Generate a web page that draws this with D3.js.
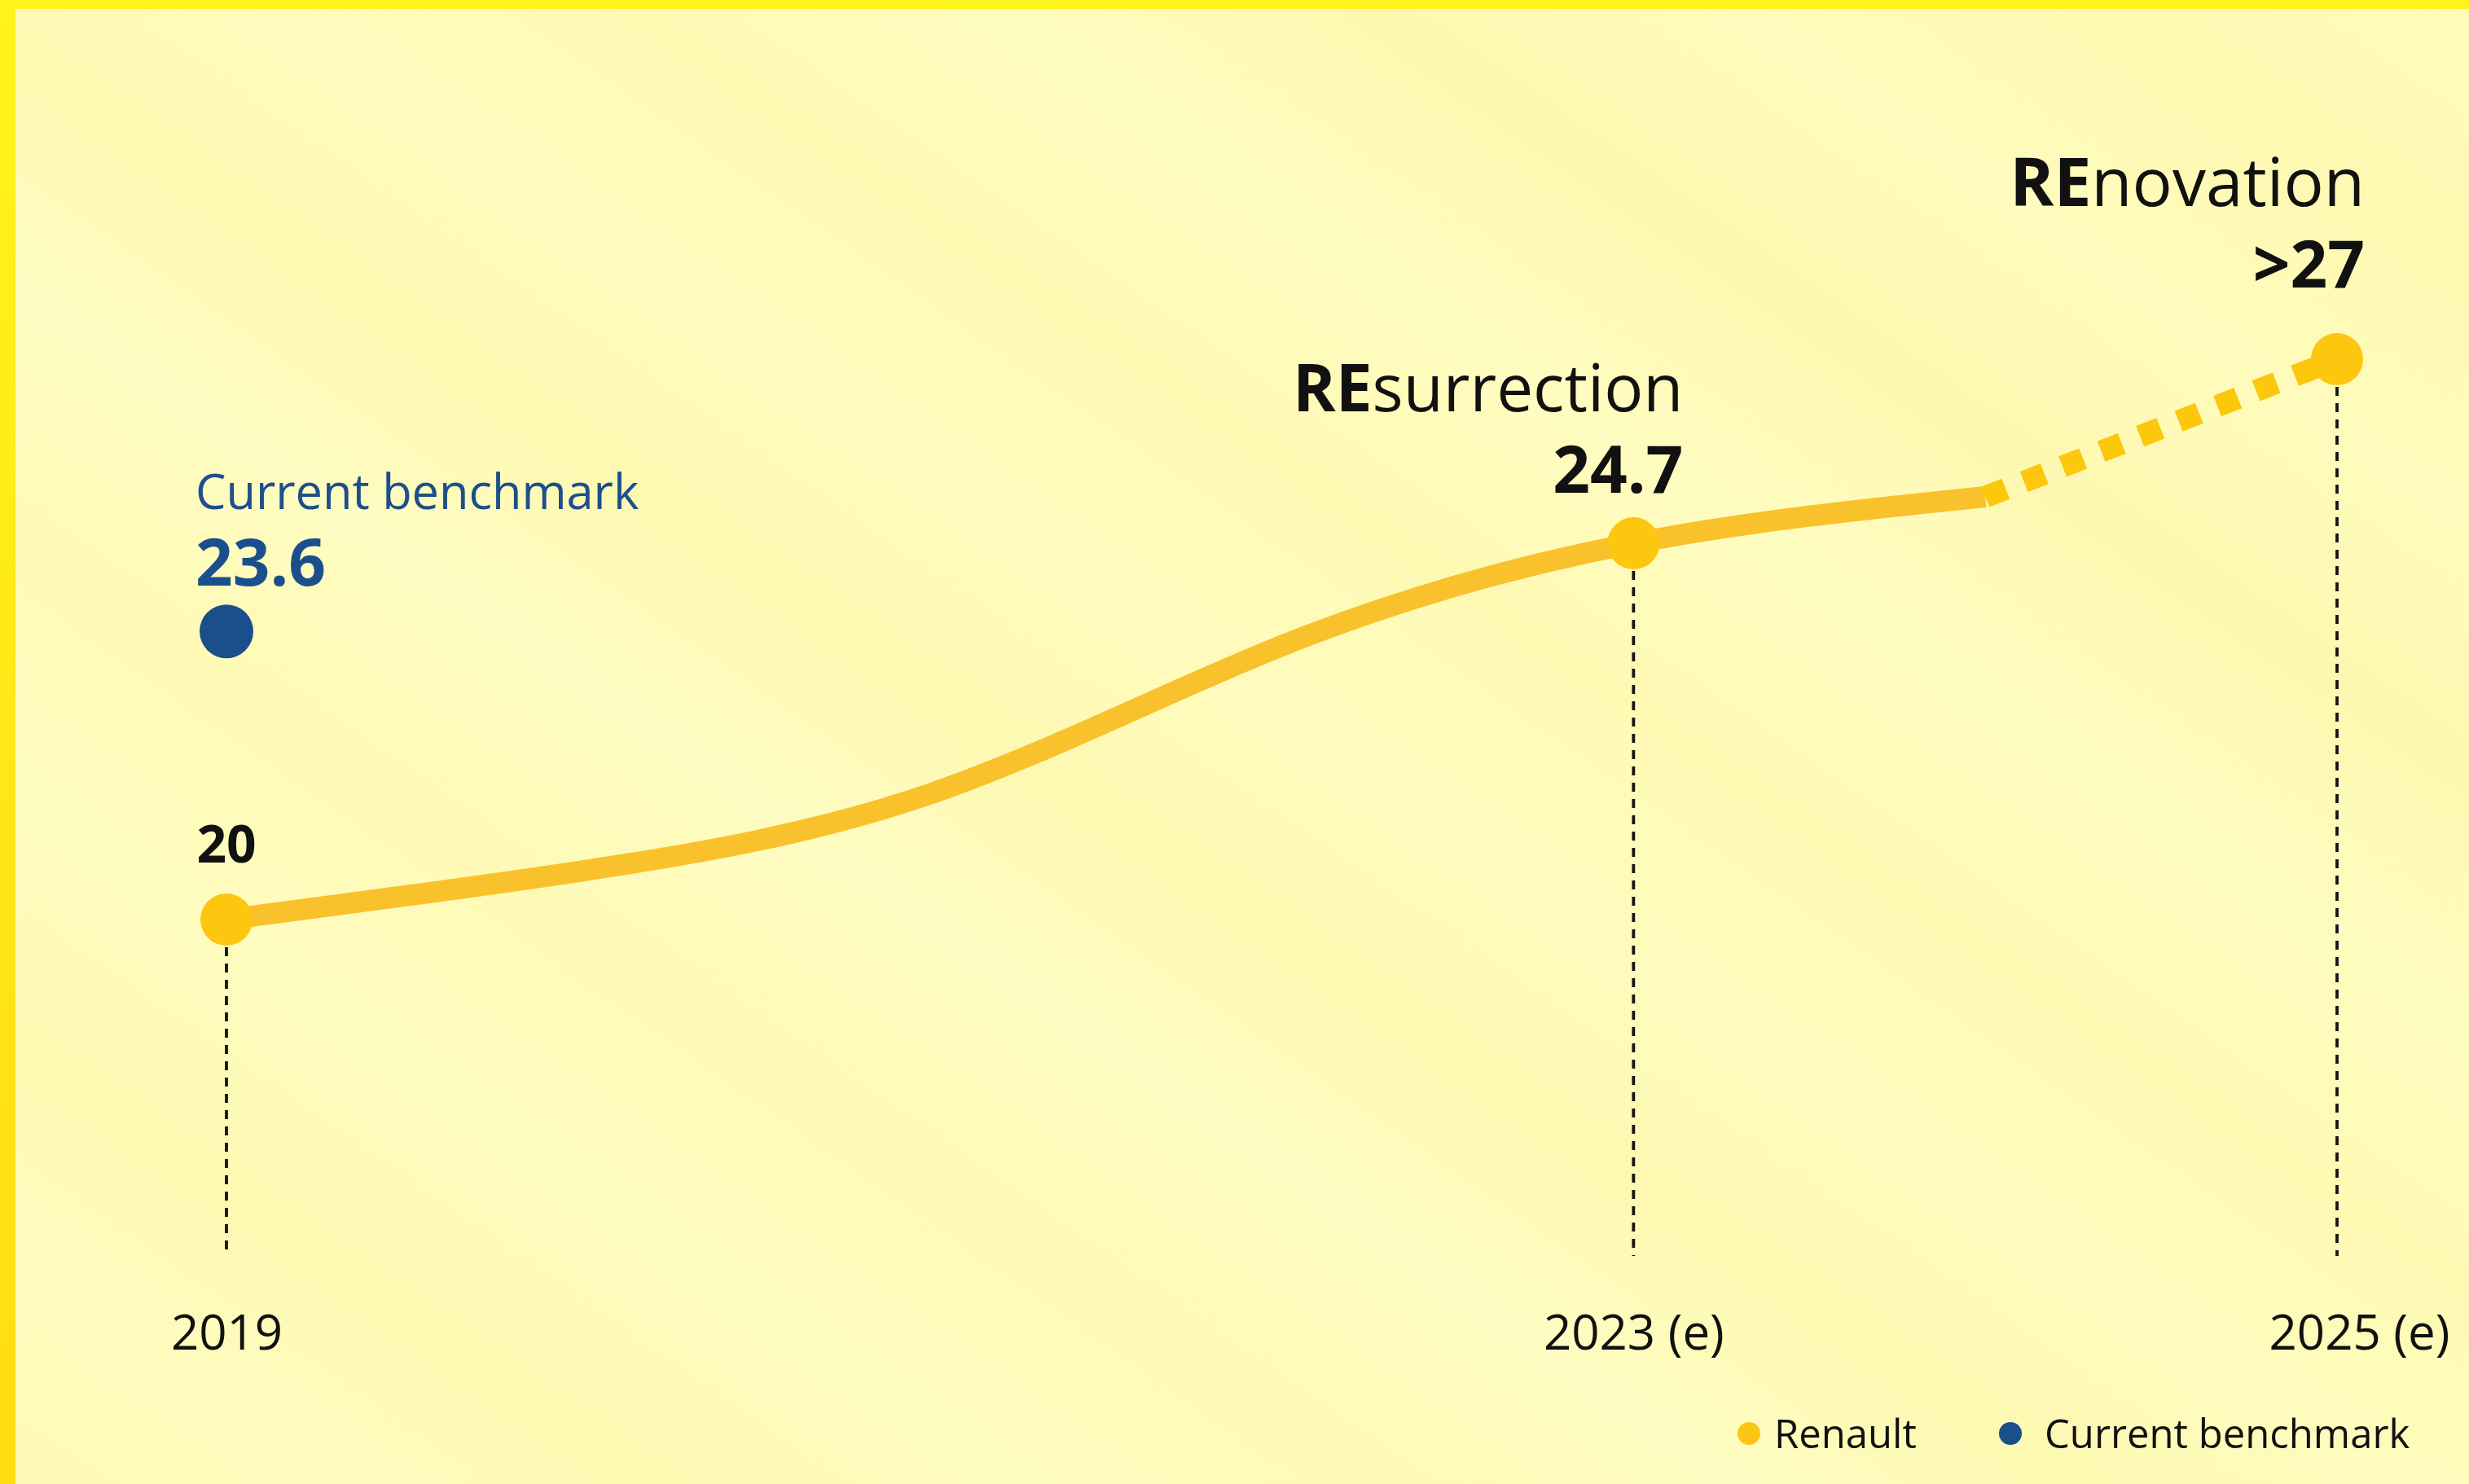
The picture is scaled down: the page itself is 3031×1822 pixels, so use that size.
<!DOCTYPE html>
<html>
<head>
<meta charset="utf-8">
<script src="https://cdn.jsdelivr.net/npm/d3@7/dist/d3.min.js"></script>
<style>
  html, body { margin: 0; padding: 0; background: #fefab8; }
  svg { display: block; }
  text { font-family: "Open Sans", "Noto Sans", sans-serif; }
</style>
</head>
<body>
<svg id="chart" width="3031" height="1822"></svg>
<script>
// Renault trajectory (solid to 2024, estimated path dashed to 2025)
const years = [2019, 2020, 2021, 2022, 2023, 2024, 2025];
const renault = [20, 20.6, 21.57, 23.42, 24.7, 25.28, 27];
const forecastStart = 2024;

// Labelled milestones on the Renault line
const milestoneYears = [2019, 2023, 2025];
const milestoneValues = [20, 24.7, 27];
const milestoneNames = ["", "surrection", "novation"];
const milestoneValueText = ["20", "24.7", ">27"];

// Current benchmark marker
const benchmarkYear = 2019;
const benchmarkValue = 23.6;
const benchmarkName = "Current benchmark";

// Axis ticks
const tickYears = [2019, 2023, 2025];
const tickLabels = ["2019", "2023 (e)", "2025 (e)"];

// Legend
const legendNames = ["Renault", "Current benchmark"];
const legendColors = ["#fcc614", "#1b4f8c"];

const W = 3031, H = 1822;
const svg = d3.select("#chart");

// ---- background: pale yellow panel with faint diagonal streaks and bright edges
const defs = svg.append("defs");
const sheen = defs.append("linearGradient")
  .attr("id", "sheen")
  .attr("gradientUnits", "userSpaceOnUse")
  .attr("x1", 0).attr("y1", 1822).attr("x2", 1836).attr("y2", -820);
[[0, "#fefab4"], [0.08, "#fffbbe"], [0.14, "#fdf9b2"], [0.22, "#fffcc0"],
 [0.3, "#fefab5"], [0.38, "#fffcc2"], [0.45, "#fdf9b2"], [0.52, "#fffbbd"],
 [0.6, "#fefab4"], [0.68, "#fffcc0"], [0.76, "#fdf8b0"], [0.84, "#fffbbc"],
 [0.92, "#fdf9b2"], [1, "#fffbbb"]]
  .forEach(([o, c]) => sheen.append("stop").attr("offset", o).attr("stop-color", c));

const edge = defs.append("linearGradient")
  .attr("id", "edge").attr("x1", 0).attr("y1", 0).attr("x2", 0).attr("y2", 1);
edge.append("stop").attr("offset", 0).attr("stop-color", "#fff31c");
edge.append("stop").attr("offset", 1).attr("stop-color", "#ffdd12");

svg.append("rect").attr("width", W).attr("height", H).attr("fill", "url(#sheen)");
svg.append("rect").attr("x", 0).attr("y", 0).attr("width", W).attr("height", 11).attr("fill", "#fff31d");
svg.append("rect").attr("x", 0).attr("y", 0).attr("width", 19).attr("height", H).attr("fill", "url(#edge)");

// ---- scales
const x = d3.scaleLinear().domain([2019, 2025]).range([278, 2869]);
const y = d3.scaleLinear().domain([20, 27]).range([1129, 441]);

const pts = years.map((yr, i) => ({ year: yr, value: renault[i] }));
const solidPts = pts.filter(d => d.year <= forecastStart);
const dashPts = pts.filter(d => d.year >= forecastStart);

const g = svg.append("g");

// vertical guides under the milestones
const guideBottom = 1542;
g.selectAll(".guide")
  .data(milestoneYears.map((yr, i) => ({ year: yr, value: milestoneValues[i] })))
  .join("line")
  .attr("class", "guide")
  .attr("x1", d => x(d.year)).attr("x2", d => x(d.year))
  .attr("y1", d => y(d.value) + 34).attr("y2", guideBottom)
  .attr("stroke", "#161616").attr("stroke-width", 3.8)
  .attr("stroke-dasharray", "11 9");

// Renault line
const line = d3.line().x(d => x(d.year)).y(d => y(d.value)).curve(d3.curveNatural);
g.append("path").datum(solidPts)
  .attr("d", line)
  .attr("fill", "none").attr("stroke", "#f9c22c")
  .attr("stroke-width", 26).attr("stroke-linecap", "butt");

g.append("path").datum(dashPts)
  .attr("d", d3.line().x(d => x(d.year)).y(d => y(d.value)))
  .attr("fill", "none").attr("stroke", "#fcc70c")
  .attr("stroke-width", 27).attr("stroke-dasharray", "27 24");

// milestone dots
g.selectAll(".dot")
  .data(milestoneYears.map((yr, i) => ({ year: yr, value: milestoneValues[i] })))
  .join("circle")
  .attr("class", "dot")
  .attr("cx", d => x(d.year)).attr("cy", d => y(d.value))
  .attr("r", 32).attr("fill", "#fdc60f");

// benchmark dot
g.append("circle")
  .attr("cx", x(benchmarkYear)).attr("cy", y(benchmarkValue))
  .attr("r", 33).attr("fill", "#1b4f8c");

// ---- labels
const ink = "#111111";
// 2019 value
g.append("text")
  .attr("x", x(2019)).attr("y", y(20) - 70)
  .attr("text-anchor", "middle").attr("font-size", 64).attr("font-weight", 700)
  .attr("fill", ink).text(milestoneValueText[0]);

// benchmark label: name over value
const bx = x(benchmarkYear) - 38, by = y(benchmarkValue);
g.append("text").attr("x", bx).attr("y", by - 150)
  .attr("font-size", 59.5).attr("fill", "#1d4f8b").text(benchmarkName);
g.append("text").attr("x", bx).attr("y", by - 56)
  .attr("font-size", 80).attr("font-weight", 700).attr("fill", "#1b4f8c")
  .text(d3.format(".1f")(benchmarkValue));

// named milestones: bold "RE" prefix, value on the line below
const named = [
  { i: 1, dx: 61, nameDy: -162, valDy: -62, size: 80 },
  { i: 2, dx: 34, nameDy: -188, valDy: -88, size: 82 }
];
named.forEach(m => {
  const cx = x(milestoneYears[m.i]) + m.dx, cy = y(milestoneValues[m.i]);
  const t = g.append("text")
    .attr("x", cx).attr("y", cy + m.nameDy)
    .attr("text-anchor", "end").attr("font-size", m.size).attr("fill", ink);
  t.append("tspan").attr("font-weight", 700).text("RE");
  t.append("tspan").attr("font-weight", 400).text(milestoneNames[m.i]);
  g.append("text")
    .attr("x", cx).attr("y", cy + m.valDy)
    .attr("text-anchor", "end").attr("font-size", 80).attr("font-weight", 700)
    .attr("fill", ink).text(milestoneValueText[m.i]);
});

// ---- x axis (labels only)
const axis = d3.axisBottom(x)
  .tickValues(tickYears)
  .tickSize(0)
  .tickFormat((d, i) => tickLabels[i]);
const ax = svg.append("g").attr("transform", "translate(0,1657)").call(axis);
ax.select(".domain").remove();
ax.selectAll("text")
  .attr("y", 0).attr("dy", 0)
  .attr("font-size", 60).attr("fill", ink)
  .style("font-family", "'Open Sans', 'Noto Sans', sans-serif")
  .attr("dx", (d, i) => i === tickYears.length - 1 ? 27 : 0);

// ---- legend
const legendX = [2147, 2468];
const lg = svg.append("g").attr("transform", "translate(0,1760)");
const items = lg.selectAll("g").data(legendNames).join("g")
  .attr("transform", (d, i) => `translate(${legendX[i]},0)`);
items.append("circle").attr("r", 14).attr("fill", (d, i) => legendColors[i]);
items.append("text").attr("x", (d, i) => i === 0 ? 31 : 42).attr("y", 18)
  .attr("font-size", 49).attr("fill", ink).text(d => d);
</script>
</body>
</html>
